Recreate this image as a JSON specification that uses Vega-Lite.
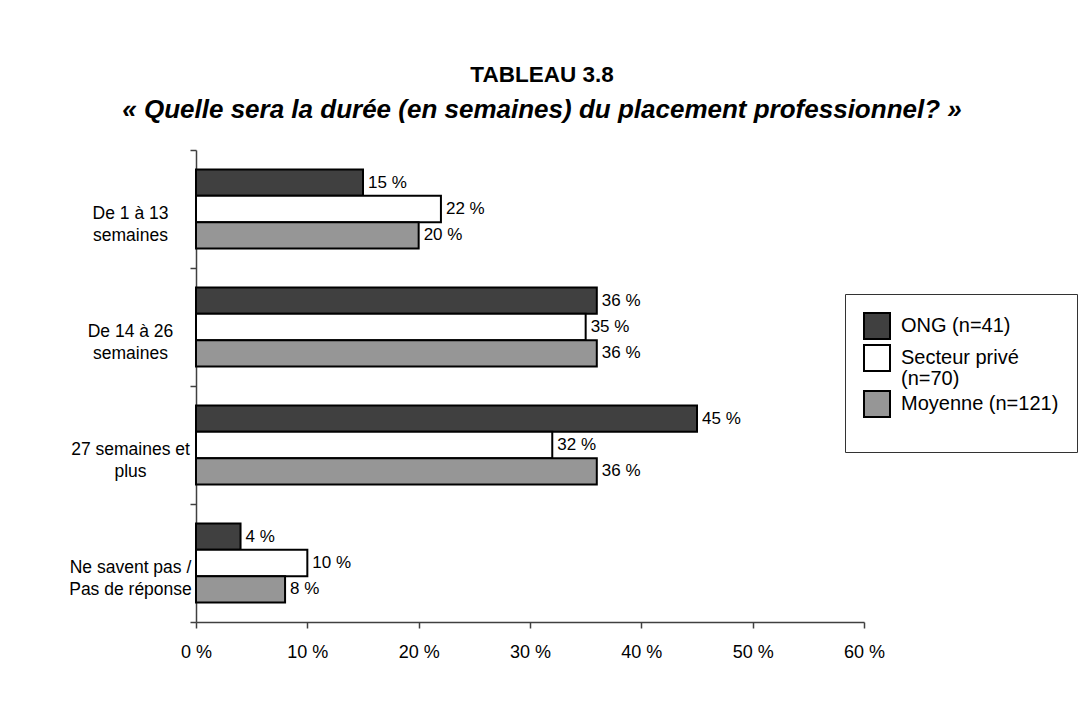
{
  "$schema": "https://vega.github.io/schema/vega-lite/v6.json",
  "width": 668,
  "height": 472,
  "autosize": {"type": "none"},
  "padding": {"left": 196, "top": 150, "right": 220, "bottom": 103},
  "background": "white",
  "title": {
    "text": "TABLEAU 3.8",
    "subtitle": "« Quelle sera la durée (en semaines) du placement professionnel? »",
    "anchor": "middle",
    "frame": "group",
    "dx": 12,
    "offset": 18,
    "font": "Liberation Sans",
    "fontSize": 22.5,
    "fontWeight": "bold",
    "color": "black",
    "subtitleFont": "Liberation Sans",
    "subtitleFontSize": 26,
    "subtitleFontWeight": "bold",
    "subtitleFontStyle": "italic",
    "subtitleColor": "black",
    "subtitlePadding": 11
  },
  "data": {
    "values": [
      {"cat": "De 1 à 13 semaines", "group": "ONG (n=41)", "pct": 15},
      {"cat": "De 1 à 13 semaines", "group": "Secteur privé (n=70)", "pct": 22},
      {"cat": "De 1 à 13 semaines", "group": "Moyenne (n=121)", "pct": 20},
      {"cat": "De 14 à 26 semaines", "group": "ONG (n=41)", "pct": 36},
      {"cat": "De 14 à 26 semaines", "group": "Secteur privé (n=70)", "pct": 35},
      {"cat": "De 14 à 26 semaines", "group": "Moyenne (n=121)", "pct": 36},
      {"cat": "27 semaines et plus", "group": "ONG (n=41)", "pct": 45},
      {"cat": "27 semaines et plus", "group": "Secteur privé (n=70)", "pct": 32},
      {"cat": "27 semaines et plus", "group": "Moyenne (n=121)", "pct": 36},
      {"cat": "Ne savent pas / Pas de réponse", "group": "ONG (n=41)", "pct": 4},
      {"cat": "Ne savent pas / Pas de réponse", "group": "Secteur privé (n=70)", "pct": 10},
      {"cat": "Ne savent pas / Pas de réponse", "group": "Moyenne (n=121)", "pct": 8}
    ]
  },
  "transform": [{"calculate": "datum.pct + ' %'", "as": "label"}],
  "encoding": {
    "y": {
      "field": "cat",
      "type": "nominal",
      "sort": ["De 1 à 13 semaines", "De 14 à 26 semaines", "27 semaines et plus", "Ne savent pas / Pas de réponse"],
      "scale": {"paddingInner": 0, "paddingOuter": 0},
      "axis": {
        "title": null,
        "domainColor": "#404040",
        "domainWidth": 1.5,
        "tickColor": "#404040",
        "tickWidth": 1.5,
        "tickSize": 6,
        "tickBand": "extent",
        "labelAlign": "center",
        "labelBaseline": "middle",
        "labelPadding": 60,
        "labelOffset": 4,
        "labelFont": "Liberation Sans",
        "labelFontSize": 17.5,
        "labelColor": "black",
        "labelLineHeight": 22,
        "labelLimit": 0,
        "labelExpr": "{'De 1 à 13 semaines': ['De 1 à 13', 'semaines'], 'De 14 à 26 semaines': ['De 14 à 26', 'semaines'], '27 semaines et plus': ['27 semaines et', 'plus'], 'Ne savent pas / Pas de réponse': ['Ne savent pas /', 'Pas de réponse']}[datum.label]"
      }
    },
    "yOffset": {
      "field": "group",
      "type": "nominal",
      "sort": ["ONG (n=41)", "Secteur privé (n=70)", "Moyenne (n=121)"],
      "scale": {"paddingInner": 0, "paddingOuter": 0.74}
    },
    "x": {
      "field": "pct",
      "type": "quantitative",
      "scale": {"domain": [0, 60], "nice": false},
      "axis": {
        "title": null,
        "grid": false,
        "values": [0, 10, 20, 30, 40, 50, 60],
        "labelExpr": "datum.value + ' %'",
        "domainColor": "#404040",
        "domainWidth": 1.5,
        "tickColor": "#404040",
        "tickWidth": 1.5,
        "tickSize": 6,
        "labelPadding": 15,
        "labelFont": "Liberation Sans",
        "labelFontSize": 18,
        "labelColor": "black",
        "labelFlush": false
      }
    }
  },
  "layer": [
    {
      "mark": {"type": "bar", "stroke": "black", "strokeWidth": 2},
      "encoding": {
        "fill": {
          "field": "group",
          "type": "nominal",
          "scale": {
            "domain": ["ONG (n=41)", "Secteur privé (n=70)", "Moyenne (n=121)"],
            "range": ["#404040", "#ffffff", "#969696"]
          },
          "legend": {
            "orient": "none",
            "legendX": 649,
            "legendY": 144,
            "title": " ",
            "titleOrient": "bottom",
            "titleFontSize": 4,
            "titlePadding": 9,
            "strokeColor": "#333333",
            "fillColor": "white",
            "padding": 18,
            "symbolType": "square",
            "symbolSize": 676,
            "symbolStrokeWidth": 2,
            "symbolStrokeColor": "black",
            "labelFont": "Liberation Sans",
            "labelFontSize": 20,
            "labelColor": "black",
            "labelOffset": 10,
            "labelLimit": 300,
            "rowPadding": -2,
            "labelExpr": "datum.label == 'Secteur privé (n=70)' ? ['Secteur privé', '(n=70)'] : datum.label"
          }
        }
      }
    },
    {
      "mark": {"type": "text", "align": "left", "baseline": "middle", "dx": 5, "font": "Liberation Sans", "fontSize": 17, "color": "black"},
      "encoding": {"text": {"field": "label"}}
    }
  ],
  "config": {
    "view": {"stroke": null},
    "style": {"guide-label": {"lineHeight": 21}}
  }
}
